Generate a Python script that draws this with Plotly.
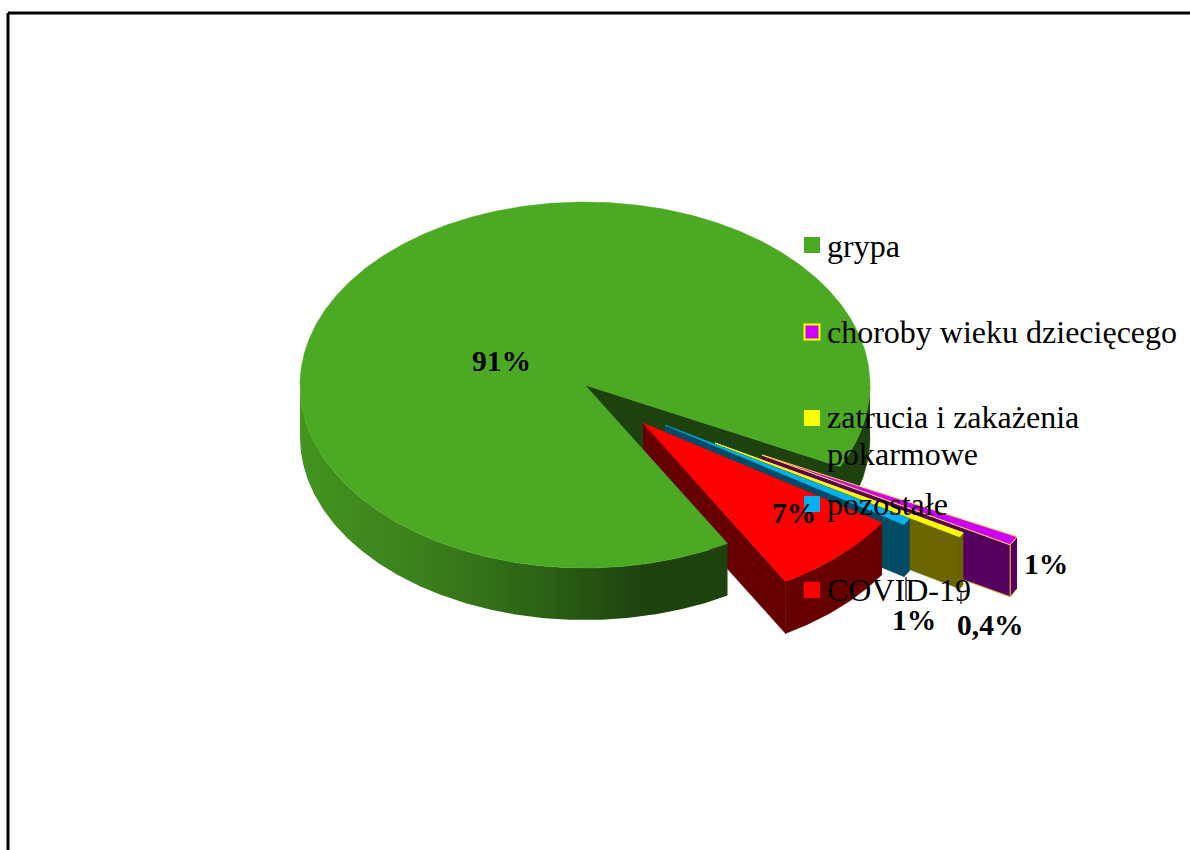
"""
Udział zachorowań - tilted, exploded pie drawn as projected polygons.
"""

import numpy as np
import plotly.graph_objects as go

# data, in legend order
CATEGORIES = ["grypa", "choroby wieku dziecięcego", "zatrucia i zakażenia<br>pokarmowe", "pozostałe", "COVID-19"]
VALUES = [90.7, 0.8, 0.4, 0.6, 7.5]
VALUE_LABELS = ["91%", "1%", "0,4%", "1%", "7%"]

COLOURS = {
    "top":  ["#4ca924", "#cc00ff", "#ffff00", "#00b0f0", "#ff0000"],
    "wall": ["#1e420e", "#55005f", "#6b6600", "#004b66", "#660000"],
    "wall_edge": [None, "#e0b040", None, None, None],
    "top_edge": [None, "#ffd830", "#ffff00", None, None],
    "key_edge": ["#4ca924", "#ffff00", "#ffff00", "#00b0f0", "#ff0000"],
}

# projection of the pie, in pixels
CX, CY = 585, 385
RX, RY = 285, 183
DEPTH = 52
START_ANGLE = 60.0  # where grypa starts, clockwise from 3 o'clock

# apex shift of each exploded slice
SHIFT = [(0, 0), (177, 70), (130, 58), (80, 40), (58, 38)]

LEGEND_Y = [245, 332, 418, 504, 590]
TEXT_Y = [246, 332, 417, 504, 590]
LABEL_POS = [(501, 361), (1046, 564), (990, 625), (914, 620), (794, 513)]
LEADERS = [((906, 577), (906, 600)), ((961, 593), (961, 604))]

FONT = "Liberation Serif, Times New Roman, serif"
LINE_STEP = 37


def rim(a0, a1, dx=0, dy=0):
    t = np.radians(np.linspace(a0, a1, max(int(abs(a1 - a0)) * 2, 2)))
    return CX + dx + RX * np.cos(t), CY + dy + RY * np.sin(t)


def poly(fig, x, y, fill, edge=None, **kw):
    fig.add_trace(go.Scatter(
        x=x, y=y, mode="lines", fill="toself", fillcolor=fill,
        line=dict(color=edge or fill, width=1 if edge else 0.5),
        hoverinfo="skip", showlegend=False, **kw,
    ))


def wall(a0, a1, dx=0, dy=0):
    x, y = rim(a0, a1, dx, dy)
    return np.r_[x, x[::-1]], np.r_[y, y[::-1] + DEPTH]


def cut_wall(a, dx=0, dy=0):
    x, y = rim(a, a, dx, dy)
    px, py = CX + dx, CY + dy
    return [px, x[0], x[0], px], [py, y[0], y[0] + DEPTH, py + DEPTH]


def top(a0, a1, dx=0, dy=0):
    x, y = rim(a0, a1, dx, dy)
    return np.r_[CX + dx, x, CX + dx], np.r_[CY + dy, y, CY + dy]


sweeps = np.array(VALUES) / sum(VALUES) * 360
starts = START_ANGLE + np.r_[0, np.cumsum(sweeps)[:-1]]
ends = starts + sweeps

fig = go.Figure()

# back of the big slice: cut face and right-hand rim
g0, g1 = starts[0], ends[0]
poly(fig, *cut_wall(g1 % 360), COLOURS["wall"][0])
poly(fig, *wall(360, g1), COLOURS["wall"][0])

# exploded slices, furthest first
for i in range(1, 5):
    a0, a1 = starts[i] % 360, ends[i] % 360
    dx, dy = SHIFT[i]
    poly(fig, *cut_wall(a1, dx, dy), COLOURS["wall"][i], COLOURS["wall_edge"][i])
    poly(fig, *wall(a0, a1, dx, dy), COLOURS["wall"][i], COLOURS["wall_edge"][i])
    poly(fig, *top(a0, a1, dx, dy), COLOURS["top"][i], COLOURS["top_edge"][i])

# front of the big slice with its gradient, then its top
x, y = wall(g0, 180)
fig.add_trace(go.Scatter(
    x=x, y=y, mode="lines", fill="toself", line=dict(width=0),
    fillgradient=dict(
        type="horizontal", start=CX - RX, stop=CX + 142,
        colorscale=[[0, "#439420"], [0.3, "#3a7f1b"], [0.6, "#2a5e14"], [0.8, "#1e420e"], [1, "#1e420e"]],
    ),
    hoverinfo="skip", showlegend=False,
))
poly(fig, *top(g0, g1), COLOURS["top"][0])

for (p, q) in LEADERS:
    fig.add_trace(go.Scatter(x=[p[0], q[0]], y=[p[1], q[1]], mode="lines",
                             line=dict(color="#000000", width=1.2),
                             hoverinfo="skip", showlegend=False))

# legend keys
fig.add_trace(go.Scatter(
    x=[812] * 5, y=LEGEND_Y, mode="markers",
    marker=dict(symbol="square", size=[16, 15, 16, 16, 16], color=COLOURS["top"], opacity=1,
                line=dict(color=COLOURS["key_edge"], width=[0, 2, 0, 0, 0])),
    hoverinfo="skip", showlegend=False,
))

for name, ty in zip(CATEGORIES, TEXT_Y):
    for n, part in enumerate(name.split("<br>")):
        fig.add_annotation(x=825, y=ty + n * LINE_STEP, text=part, showarrow=False,
                           xanchor="left", yanchor="middle",
                           font=dict(family=FONT, size=32, color="#000000"))

for lab, (lx, ly) in zip(VALUE_LABELS, LABEL_POS):
    fig.add_annotation(x=lx, y=ly, text=f"<b>{lab}</b>", showarrow=False,
                       font=dict(family=FONT, size=29.5, color="#000000"))

# frame, runs off the right and bottom of the page
fig.add_shape(type="line", x0=8, y0=13, x1=1200, y1=13, line=dict(color="#000000", width=3))
fig.add_shape(type="line", x0=8, y0=13, x1=8, y1=860, line=dict(color="#000000", width=3))

fig.update_layout(
    width=1190, height=850,
    margin=dict(l=0, r=0, t=0, b=0),
    paper_bgcolor="#ffffff", plot_bgcolor="#ffffff",
    xaxis=dict(range=[0, 1190], visible=False, fixedrange=True),
    yaxis=dict(range=[850, 0], visible=False, fixedrange=True),
    showlegend=False,
)

fig.write_html("out.html", config=dict(displayModeBar=False),
               post_script="document.body.style.margin='0';document.body.style.overflow='hidden';")
